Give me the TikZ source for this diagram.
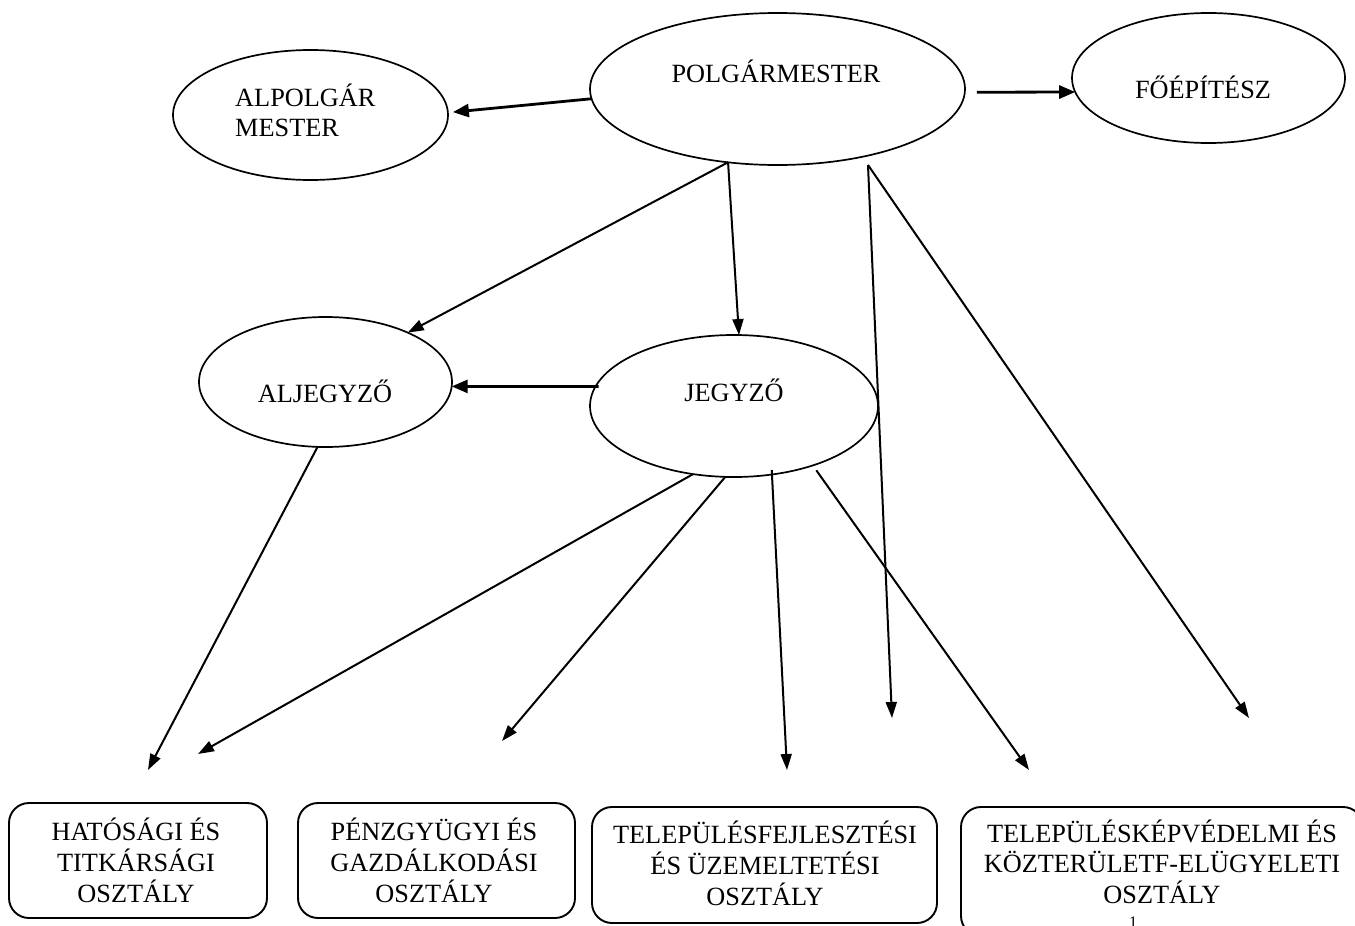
\documentclass[tikz,border=0pt]{standalone}
\usepackage{fontspec}
\setmainfont{Liberation Serif}
\usetikzlibrary{arrows.meta,shapes.geometric}
\newcommand{\firststrut}{\rule{0pt}{27pt}}
\begin{document}
\begin{tikzpicture}[x=1pt,y=-1pt,
  ell/.style={draw, ellipse, line width=1.7pt, inner sep=0pt, outer sep=0pt},
  box/.style={draw, rectangle, rounded corners=20pt, line width=1.9pt, inner sep=0pt, outer sep=0pt},
  lbl/.style={inner sep=0pt, font=\fontsize{26.3}{31}\selectfont},
  arr/.style={line width=2pt, -{Triangle[length=16pt,width=11pt]}},
  harr/.style={line width=2.8pt, -{Triangle[length=16pt,width=13pt]}},
]
\useasboundingbox (0,0) rectangle (1355,926);
\clip (0,0) rectangle (1355,926);
\fill[white] (0,0) rectangle (1355,926);

% ellipses
\node[ell, minimum width=275pt, minimum height=130pt] (alp) at (310.5,115) {};
\node[ell, minimum width=375pt, minimum height=152pt] (pol) at (777.5,89) {};
\node[ell, minimum width=273pt, minimum height=130pt] (fo) at (1208.5,78) {};
\node[ell, minimum width=253pt, minimum height=130pt] (alj) at (325.5,382) {};
\node[ell, minimum width=288pt, minimum height=142pt] (jeg) at (734,406) {};

% ellipse texts
\node[lbl, anchor=base] (polT) at (776,82.5) {POLGÁRMESTER};
\node[lbl, anchor=base] (foT) at (1203,98.7) {FŐÉPÍTÉSZ};
\node[lbl, anchor=base] (aljT) at (325,402.7) {ALJEGYZŐ};
\node[lbl, anchor=base] (jegT) at (734,401) {JEGYZŐ};
\node[lbl, font=\fontsize{26.3}{30}\selectfont, anchor=north west, align=left] (alpT) at (235,79) {\firststrut ALPOLGÁR\\MESTER};

% boxes
\node[box, minimum width=258pt, minimum height=115pt] (b1) at (138,860.5) {};
\node[box, minimum width=277pt, minimum height=115pt] (b2) at (436.5,860.5) {};
\node[box, minimum width=345pt, minimum height=116pt] (b3) at (764.5,865) {};
\node[box, minimum width=402pt, minimum height=129pt] (b4) at (1162,871.5) {};

\node[lbl, anchor=north, align=center] (b1T) at (136,813) {\firststrut HATÓSÁGI ÉS\\TITKÁRSÁGI\\OSZTÁLY};
\node[lbl, anchor=north, align=center] (b2T) at (434,813) {\firststrut PÉNZGYÜGYI ÉS\\GAZDÁLKODÁSI\\OSZTÁLY};
\node[lbl, anchor=north, align=center] (b3T) at (765,816) {\firststrut TELEPÜLÉSFEJLESZTÉSI\\ÉS ÜZEMELTETÉSI\\OSZTÁLY};
\node[lbl, font=\fontsize{26.3}{30.5}\selectfont, anchor=north, align=center] (b4T) at (1162,815) {\firststrut TELEPÜLÉSKÉPVÉDELMI ÉS\\KÖZTERÜLETF-ELÜGYELETI\\OSZTÁLY};
\node[inner sep=0pt, anchor=north, font=\fontsize{16}{16}\selectfont] (pg) at (1133,917) {1};

% free ends
\coordinate (polR) at (868,165);
\coordinate (t1) at (148,770);
\coordinate (t2) at (198,754);
\coordinate (t3) at (502,741);
\coordinate (t4) at (787,770);
\coordinate (t5) at (892,718);
\coordinate (t6) at (1029,770);
\coordinate (t7) at (1249,718);

% connectors
\draw[harr, shorten >=5pt] (pol.183) -- (alp.1);
\draw[harr, shorten <=12pt] (pol.-1.7) -- (fo.186);
\draw[arr] (pol.-124.5) -- (alj.31);
\draw[arr] (pol.-124.5) -- (jeg.86.7);
\draw[arr] (polR) -- (t5);
\draw[arr] (polR) -- (t7);
\draw[harr, shorten <=-3pt] (jeg.172) -- (alj.-2.3);
\draw[arr] (alj.-97.7) -- (t1);
\draw[arr] (jeg.-121.4) -- (t2);
\draw[arr] (jeg.-97) -- (t3);
\draw[arr, shorten <=-4.5pt] (jeg.-61.7) -- (t4);
\draw[arr, shorten <=6pt] (jeg.-37.3) -- (t6);
\end{tikzpicture}
\end{document}
